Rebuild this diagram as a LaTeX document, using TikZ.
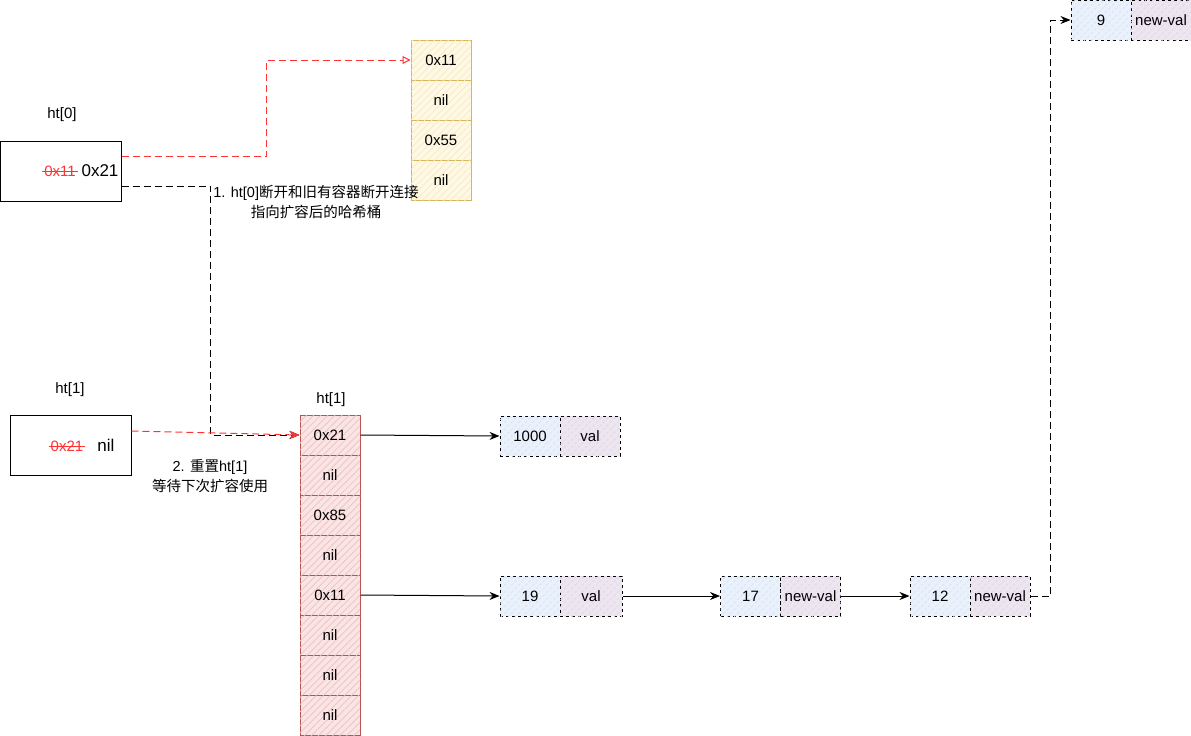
\documentclass[tikz,border=0pt]{standalone}
\usepackage{fontspec}
\setmainfont{Liberation Sans}
\newfontfamily\cjk{Noto Sans CJK SC}
\usetikzlibrary{arrows.meta,patterns.meta}
\definecolor{ystroke}{HTML}{D6B656}
\definecolor{yfill}{HTML}{FFF2CC}
\definecolor{rstroke}{HTML}{B85450}
\definecolor{rfill}{HTML}{F8CECC}
\definecolor{bfill}{HTML}{DAE8FC}
\definecolor{pfill}{HTML}{E1D5E7}
\definecolor{redline}{HTML}{FF3333}
\begin{document}
\begin{tikzpicture}[x=1pt,y=-1pt,
  font=\fontsize{15}{18}\selectfont,
  cellbase/.style={minimum width=60pt, minimum height=40pt, inner sep=0pt, line width=1pt},
  ycell/.style={cellbase, draw=ystroke, fill=yfill!55,
    postaction={pattern={Lines[angle=45,distance=5pt,line width=0.7pt]}, pattern color=ystroke!30}},
  rcell/.style={cellbase, draw=rstroke, fill=rfill!55,
    postaction={pattern={Lines[angle=45,distance=5pt,line width=0.7pt]}, pattern color=rstroke!35}},
  kcell/.style={cellbase, draw=black, dashed, fill=bfill!60,
    postaction={pattern={Lines[angle=45,distance=5pt,line width=0.7pt]}, pattern color=bfill!90!black!60}},
  vcell/.style={cellbase, draw=black, dashed, fill=pfill!60,
    postaction={pattern={Lines[angle=45,distance=5pt,line width=0.7pt]}, pattern color=pfill!90!black!60}},
  hbox/.style={draw=black, fill=white, line width=1pt, minimum width=121pt, minimum height=60pt, inner sep=0pt},
  plain/.style={inner sep=1pt},
  big/.style={font=\fontsize{17}{20}\selectfont},
  dashln/.style={dash pattern=on 7pt off 4pt, line width=1pt},
  blackarrow/.style={-{Stealth[length=10pt,width=8pt]}, line width=1pt},
  redarrow/.style={dashln, draw=redline, -{Stealth[length=10pt,width=8pt]}},
  redopen/.style={dashln, draw=redline, -{Triangle[open,length=8pt,width=8pt]}},
  blackdash/.style={dashln, draw=black, -{Stealth[length=10pt,width=8pt]}}
]
\useasboundingbox (0,0) rectangle (1191,736);

% labels
\node[plain] (lh0) at (62,115) {ht[0]};
\node[plain] (lh1) at (70,390) {ht[1]};
\node[plain] (lh1b) at (331,400) {ht[1]};

% ht[0] box
\node[hbox] (h0) at (60.5,171) {};
\node[plain, text=redline] (s0) at (60,171) {0x11};
\draw[redline, line width=0.9pt] ([xshift=-1pt]s0.west) -- ([xshift=1pt]s0.east);
\node[plain, big] (t0) at (100,171) {0x21};

% ht[1] box
\node[hbox] (h1) at (70.5,445) {};
\node[plain, text=redline] (s1) at (67,446) {0x21};
\draw[redline, line width=0.9pt] ([xshift=-1pt]s1.west) -- ([xshift=1pt]s1.east);
\node[plain, big] (t1) at (106,445) {nil};

% yellow old bucket
\node[ycell] (y1) at (441,60) {0x11};
\node[ycell] (y2) at (441,100) {nil};
\node[ycell] (y3) at (441,140) {0x55};
\node[ycell] (y4) at (441,180) {nil};

% red new bucket
\node[rcell] (r1) at (330,435) {0x21};
\node[rcell] (r2) at (330,475) {nil};
\node[rcell] (r3) at (330,515) {0x85};
\node[rcell] (r4) at (330,555) {nil};
\node[rcell] (r5) at (330,595) {0x11};
\node[rcell] (r6) at (330,635) {nil};
\node[rcell] (r7) at (330,675) {nil};
\node[rcell] (r8) at (330,715) {nil};

% entries
\node[kcell] (p1k) at (530,436) {1000};
\node[vcell] (p1v) at (590,436) {val};
\node[kcell] (p2k) at (530,596) {19};
\node[vcell, minimum width=62pt] (p2v) at (591,596) {val};
\node[kcell] (p3k) at (750.5,596) {17};
\node[vcell] (p3v) at (810.5,596) {new-val};
\node[kcell] (p4k) at (940,596) {12};
\node[vcell] (p4v) at (1000,596) {new-val};
\node[kcell] (p5k) at (1101,20) {9};
\node[vcell] (p5v) at (1161,20) {new-val};

% text labels
\node[plain, align=center, font=\fontsize{14.5}{20}\selectfont] (note1) at (316,202)
  {1. ht[0]{\cjk 断开和旧有容器断开连接}\\{\cjk 指向扩容后的哈希桶}};
\node[plain, align=center, font=\fontsize{14.5}{20}\selectfont] (note2) at (210,476)
  {2. {\cjk 重置}ht[1]\\{\cjk 等待下次扩容使用}};

% connectors
\draw[redopen] ([yshift=15pt]h0.east) -- ++(145,0) |- (y1.west);
\draw[blackdash] ([yshift=-15pt]h0.east) -- ++(89,0) |- (r1.west);
\draw[redarrow] ([yshift=14pt]h1.east) -- (r1.west);

\draw[blackarrow] (r1.east) -- (p1k.west);
\draw[blackarrow] (r5.east) -- (p2k.west);
\draw[blackarrow] (p2v.east) -- (p3k.west);
\draw[blackarrow] (p3v.east) -- (p4k.west);
\draw[blackdash] (p4v.east) -- ++(20,0) |- (p5k.west);
\end{tikzpicture}
\end{document}
